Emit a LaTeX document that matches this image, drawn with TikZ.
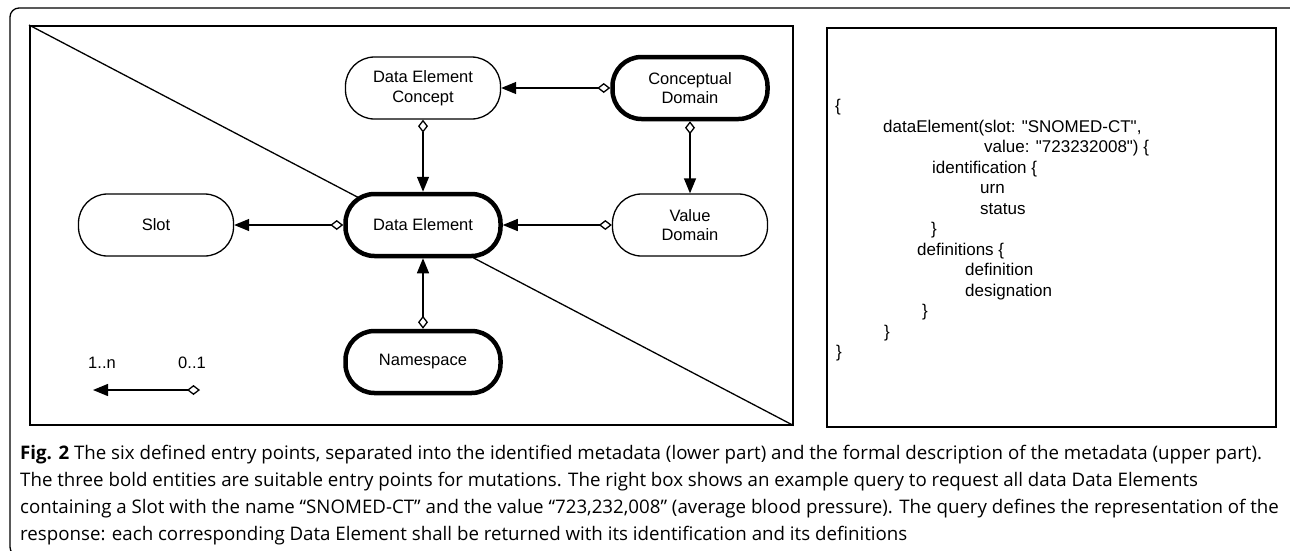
\documentclass[tikz,border=0pt]{standalone}
\usepackage{fontspec}
\setmainfont{Liberation Sans}
\newfontfamily\capfont{Open Sans}
\usetikzlibrary{arrows.meta,positioning}

\begin{document}
\begin{tikzpicture}[x=1pt,y=-1pt,node distance=137pt and 267pt,on grid,
    entity/.style={draw,fill=white,rectangle,rounded corners=29pt,
      minimum width=155pt,minimum height=62pt,align=center,line width=1.3pt,
      font=\fontsize{16.5}{19.5}\selectfont},
    entry/.style={entity,line width=4.5pt},
    assoc/.style={{Diamond[open,length=13pt,width=10pt]}-{Triangle[length=15pt,width=12pt]},
      line width=1.3pt},
    frame/.style={draw,line width=1.5pt,inner sep=0pt,anchor=north west},
    code/.style={anchor=base west,inner sep=0pt,font=\fontsize{17}{20}\selectfont},
    captext/.style={anchor=base west,inner sep=0pt,font=\capfont\fontsize{18.7}{22}\selectfont}]
  \useasboundingbox (0,0) rectangle (1290,550);
  \clip (0,0) rectangle (1290,550);
  \draw[line width=1.3pt,rounded corners=9pt] (10,8) rectangle (1300,556);

  % left box with the dividing line
  \node[frame,minimum width=763pt,minimum height=399pt] (model) at (29,25) {};
  \draw[line width=1.3pt] (model.north west) -- (model.south east);

  \node[entry]  (de)   at (423,225)      {Data Element};
  \node[entity] (dec)  [above=of de]     {Data Element\\Concept};
  \node[entry]  (cd)   [right=of dec]    {Conceptual\\Domain};
  \node[entity] (vd)   [below=of cd]     {Value\\Domain};
  \node[entity] (slot) [left=of de]      {Slot};
  \node[entry]  (ns)   [below=of de]     {Namespace};

  \draw[assoc] (dec) -- (de);
  \draw[assoc] (cd) -- (dec);
  \draw[assoc] (cd) -- (vd);
  \draw[assoc] (vd) -- (de);
  \draw[assoc] (de) -- (slot);
  \draw[assoc] (ns) -- (de);

  % legend
  \node[font=\fontsize{16.5}{19.5}\selectfont] (many) at (102,363) {1..n};
  \node[font=\fontsize{16.5}{19.5}\selectfont] (opt)  at (192,363) {0..1};
  \coordinate (legTip) at (93,390);
  \coordinate (legEnd) at (200,390);
  \draw[assoc] (legEnd) -- (legTip);

  % query box
  \node[frame,minimum width=449pt,minimum height=399pt] (query) at (826,27) {};
  \foreach \i/\x/\t in {1/835/\{,
      2/883/{dataElement(slot: \textquotedbl SNOMED-CT\textquotedbl,},
      3/984/{value: \textquotedbl 723232008\textquotedbl) \{},
      4/932/{identification \{},
      5/980/urn,
      6/980/status,
      7/931/\},
      8/917/{definitions \{},
      9/965/definition,
      10/965/designation,
      11/922/\},
      12/884/\},
      13/836/\}}
    \node[code] (code\i) at (\x,{91+20.5*\i}) {\t};

  % caption
  \foreach \i/\t in {
      1/{\textbf{Fig. 2} The six defined entry points, separated into the identified metadata (lower part) and the formal description of the metadata (upper part).},
      2/{The three bold entities are suitable entry points for mutations. The right box shows an example query to request all data Data Elements},
      3/{containing a Slot with the name “SNOMED-CT” and the value “723,232,008” (average blood pressure). The query defines the representation of the},
      4/{response: each corresponding Data Element shall be returned with its identification and its definitions}}
    \node[captext] (cap\i) at (20,{432+27*\i}) {\t};
\end{tikzpicture}
\end{document}
